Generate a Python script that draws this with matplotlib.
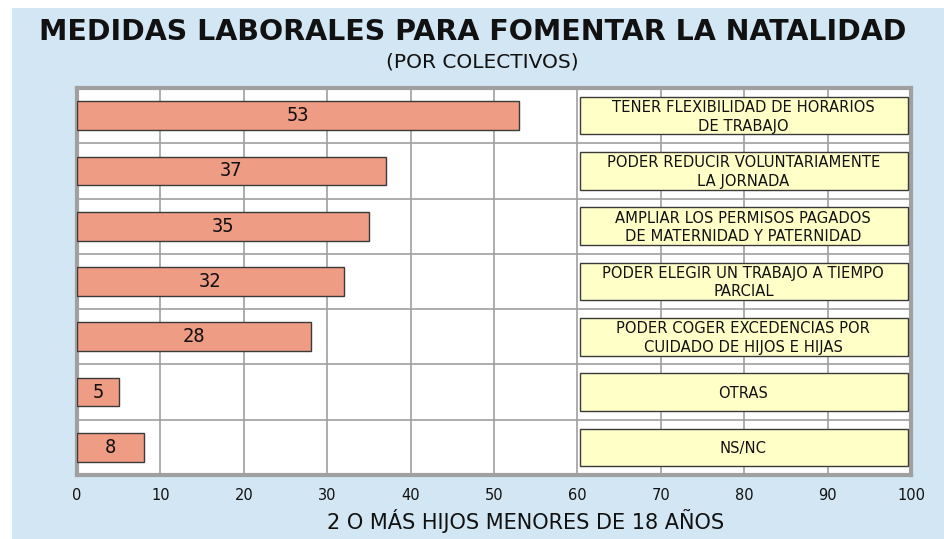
import matplotlib
matplotlib.use("Agg")
import matplotlib.pyplot as plt
from matplotlib.patches import Rectangle

# Data (top to bottom, as in the reference)
categories = [
    "Tener flexibilidad de horarios\nde trabajo",
    "Poder reducir voluntariamente\nla jornada",
    "Ampliar los permisos pagados\nde maternidad y paternidad",
    "Poder elegir un trabajo a tiempo\nparcial",
    "Poder coger excedencias por\ncuidado de hijos e hijas",
    "Otras",
    "Ns/Nc",
]
values = [53, 37, 35, 32, 28, 5, 8]
xticks = [0, 10, 20, 30, 40, 50, 60, 70, 80, 90, 100]

title = "Medidas laborales para fomentar la natalidad"
subtitle = "(Por colectivos)"
xlabel = "2 o más hijos menores de 18 años"

BLUE = "#d2e6f4"
BAR = "#ee9c84"
YELLOW = "#ffffc8"
GRID = "#a0a0a0"
FONT = "DejaVu Sans"

W, H = 944, 539
fig = plt.figure(figsize=(W / 100, H / 100), dpi=100)
fig.patch.set_facecolor("white")
fig.patches.append(Rectangle((12 / W, 0), 1, 1 - 8 / H, transform=fig.transFigure,
                             facecolor=BLUE, edgecolor="none", zorder=-10))

ax = fig.add_axes([77 / W, 1 - 475 / H, (911 - 77) / W, (475 - 88) / H])
ax.set_facecolor("white")
n = len(categories)
ax.set_xlim(0, 100)
ax.set_ylim(n, 0)

# grid
for x in xticks:
    ax.axvline(x, color=GRID, lw=1.2, zorder=1)
for i in range(n + 1):
    ax.axhline(i, color=GRID, lw=1.2, zorder=1)
for s in ax.spines.values():
    s.set_color(GRID)
    s.set_linewidth(3)

ypos = [i + 0.5 for i in range(n)]
ax.barh(ypos, values, height=0.52, color=BAR, edgecolor="#3a3a3a", lw=1.0, zorder=3)
for y, v in zip(ypos, values):
    ax.text(v / 2, y, str(v), ha="center", va="center", fontsize=13.5,
            family="DejaVu Sans Mono", color="#111111", zorder=4)

# label boxes
for y, lab in zip(ypos, categories):
    ax.add_patch(Rectangle((60.3, y - 0.34), 39.4, 0.68, facecolor=YELLOW,
                           edgecolor="#3a3a3a", lw=1.0, zorder=3))
    ax.text(79.9, y + 0.02, lab.upper(), ha="center", va="center", fontsize=10.6,
            family=FONT, color="#111111", linespacing=1.3, zorder=4)

ax.set_xticks(xticks)
ax.set_xticklabels([str(t) for t in xticks], family=FONT, fontsize=10.5, color="#111111")
ax.set_yticks([])
ax.tick_params(axis="x", length=0, pad=9)

fig.text(473 / W, 1 - 32 / H, title.upper(), ha="center", va="center",
         fontsize=20.5, family=FONT, fontweight="bold", color="#111111")
fig.text(482 / W, 1 - 62 / H, subtitle.upper(), ha="center", va="center",
         fontsize=14.5, family=FONT, color="#111111")
fig.text(526 / W, 1 - 521 / H, xlabel.upper(), ha="center", va="center",
         fontsize=15, family=FONT, color="#111111")

fig.savefig("out.png", dpi=100)
